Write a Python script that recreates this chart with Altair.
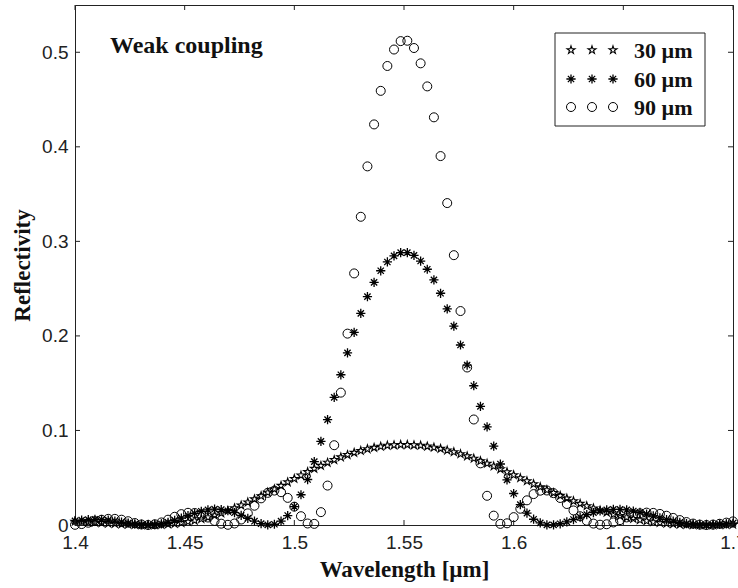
import altair as alt
import pandas as pd

# ---------------- data ----------------
wavelength = [
    1.40000, 1.40303, 1.40606, 1.40909, 1.41212, 1.41515, 1.41818, 1.42121, 1.42424, 1.42727,
    1.43030, 1.43333, 1.43636, 1.43939, 1.44242, 1.44545, 1.44848, 1.45152, 1.45455, 1.45758,
    1.46061, 1.46364, 1.46667, 1.46970, 1.47273, 1.47576, 1.47879, 1.48182, 1.48485, 1.48788,
    1.49091, 1.49394, 1.49697, 1.50000, 1.50303, 1.50606, 1.50909, 1.51212, 1.51515, 1.51818,
    1.52121, 1.52424, 1.52727, 1.53030, 1.53333, 1.53636, 1.53939, 1.54242, 1.54545, 1.54848,
    1.55152, 1.55455, 1.55758, 1.56061, 1.56364, 1.56667, 1.56970, 1.57273, 1.57576, 1.57879,
    1.58182, 1.58485, 1.58788, 1.59091, 1.59394, 1.59697, 1.60000, 1.60303, 1.60606, 1.60909,
    1.61212, 1.61515, 1.61818, 1.62121, 1.62424, 1.62727, 1.63030, 1.63333, 1.63636, 1.63939,
    1.64242, 1.64545, 1.64848, 1.65152, 1.65455, 1.65758, 1.66061, 1.66364, 1.66667, 1.66970,
    1.67273, 1.67576, 1.67879, 1.68182, 1.68485, 1.68788, 1.69091, 1.69394, 1.69697, 1.70000,
]

r_30 = [
    0.0037, 0.0034, 0.0030, 0.0026, 0.0022, 0.0017, 0.0013, 0.0009, 0.0005, 0.0003,
    0.0001, 0.0000, 0.0001, 0.0003, 0.0008, 0.0014, 0.0022, 0.0034, 0.0047, 0.0063,
    0.0081, 0.0101, 0.0125, 0.0151, 0.0178, 0.0208, 0.0240, 0.0273, 0.0307, 0.0343,
    0.0379, 0.0416, 0.0453, 0.0489, 0.0525, 0.0561, 0.0596, 0.0628, 0.0660, 0.0689,
    0.0717, 0.0742, 0.0765, 0.0785, 0.0803, 0.0818, 0.0830, 0.0840, 0.0845, 0.0848,
    0.0848, 0.0845, 0.0841, 0.0832, 0.0820, 0.0807, 0.0790, 0.0772, 0.0751, 0.0728,
    0.0703, 0.0677, 0.0650, 0.0621, 0.0591, 0.0560, 0.0529, 0.0497, 0.0465, 0.0433,
    0.0402, 0.0370, 0.0340, 0.0310, 0.0281, 0.0253, 0.0226, 0.0201, 0.0177, 0.0155,
    0.0133, 0.0114, 0.0096, 0.0081, 0.0066, 0.0053, 0.0042, 0.0032, 0.0024, 0.0017,
    0.0011, 0.0007, 0.0004, 0.0002, 0.0000, 0.0000, 0.0000, 0.0002, 0.0003, 0.0005,
]

r_60 = [
    0.0043, 0.0051, 0.0056, 0.0059, 0.0057, 0.0051, 0.0042, 0.0031, 0.0020, 0.0010,
    0.0003, 0.0000, 0.0003, 0.0013, 0.0029, 0.0049, 0.0073, 0.0099, 0.0124, 0.0145,
    0.0160, 0.0167, 0.0164, 0.0151, 0.0130, 0.0102, 0.0071, 0.0040, 0.0014, 0.0002,
    0.0008, 0.0040, 0.0100, 0.0194, 0.0320, 0.0481, 0.0670, 0.0884, 0.1115, 0.1350,
    0.1589, 0.1820, 0.2038, 0.2238, 0.2415, 0.2566, 0.2689, 0.2782, 0.2846, 0.2880,
    0.2881, 0.2852, 0.2792, 0.2705, 0.2592, 0.2451, 0.2286, 0.2103, 0.1904, 0.1692,
    0.1473, 0.1254, 0.1038, 0.0834, 0.0645, 0.0478, 0.0333, 0.0216, 0.0126, 0.0061,
    0.0022, 0.0002, 0.0002, 0.0013, 0.0033, 0.0058, 0.0084, 0.0109, 0.0131, 0.0149,
    0.0160, 0.0166, 0.0165, 0.0159, 0.0148, 0.0133, 0.0115, 0.0096, 0.0076, 0.0058,
    0.0041, 0.0027, 0.0015, 0.0006, 0.0002, 0.0000, 0.0002, 0.0006, 0.0012, 0.0019,
]

r_90 = [
    0.0002, 0.0010, 0.0024, 0.0041, 0.0056, 0.0065, 0.0065, 0.0056, 0.0040, 0.0021,
    0.0006, 0.0000, 0.0008, 0.0027, 0.0056, 0.0087, 0.0115, 0.0129, 0.0127, 0.0110,
    0.0079, 0.0043, 0.0014, 0.0002, 0.0016, 0.0058, 0.0123, 0.0204, 0.0282, 0.0340,
    0.0364, 0.0347, 0.0287, 0.0194, 0.0093, 0.0016, 0.0012, 0.0136, 0.0417, 0.0844,
    0.1400, 0.2024, 0.2661, 0.3260, 0.3793, 0.4237, 0.4592, 0.4855, 0.5029, 0.5118,
    0.5122, 0.5045, 0.4883, 0.4639, 0.4312, 0.3902, 0.3405, 0.2854, 0.2263, 0.1666,
    0.1116, 0.0652, 0.0309, 0.0099, 0.0012, 0.0018, 0.0083, 0.0172, 0.0261, 0.0327,
    0.0363, 0.0365, 0.0337, 0.0286, 0.0222, 0.0154, 0.0093, 0.0045, 0.0015, 0.0003,
    0.0008, 0.0027, 0.0052, 0.0080, 0.0105, 0.0123, 0.0131, 0.0128, 0.0117, 0.0098,
    0.0075, 0.0052, 0.0031, 0.0015, 0.0004, 0.0000, 0.0004, 0.0013, 0.0025, 0.0038,
]

series_labels = ["30 µm", "60 µm", "90 µm"]
x_ticks = [1.4, 1.45, 1.5, 1.55, 1.6, 1.65, 1.7]
y_ticks = [0, 0.1, 0.2, 0.3, 0.4, 0.5]
x_title = "Wavelength [µm]"
y_title = "Reflectivity"
annotation = "Weak coupling"

# ---------------- styling ----------------
W, H = 658, 520
STAR = ("M0,-1L0.225,-0.309L0.951,-0.309L0.363,0.118L0.588,0.809L0,0.382"
        "L-0.588,0.809L-0.363,0.118L-0.951,-0.309L-0.225,-0.309Z")
ASTERISK = "M0,-1L0,1M-1,0L1,0M-0.68,-0.68L0.68,0.68M-0.68,0.68L0.68,-0.68"
shapes = [STAR, ASTERISK, "circle"]
sizes = [70, 85, 81]
strokes = [1.1, 1.3, 1.0]
LABEL_FONT = "Liberation Sans"
TITLE_FONT = "Liberation Serif"

rows = []
for label, vals in zip(series_labels, [r_30, r_60, r_90]):
    for wl, r in zip(wavelength, vals):
        rows.append({"wavelength": wl, "reflectivity": r, "series": label})
long_df = pd.DataFrame(rows)

X = alt.X(
    "wavelength:Q",
    scale=alt.Scale(domain=[1.4, 1.7], nice=False, zero=False),
    axis=alt.Axis(
        values=x_ticks, format="~g", title=x_title, ticks=False, grid=False,
        labelFlush=False, labelOverlap=False, labelPadding=8,
        labelFont=LABEL_FONT, labelFontSize=19, labelColor="#222222",
        titleFont=TITLE_FONT, titleFontWeight="bold", titleFontSize=23,
        titleColor="#111111", titlePadding=6, domainColor="#222222",
    ),
)
Y = alt.Y(
    "reflectivity:Q",
    scale=alt.Scale(domain=[0, 0.55], nice=False, zero=True),
    axis=alt.Axis(
        values=y_ticks, format="~g", title=y_title, ticks=False, grid=False,
        labelFlush=False, labelOverlap=False, labelPadding=7,
        labelFont=LABEL_FONT, labelFontSize=19, labelColor="#222222",
        titleFont=TITLE_FONT, titleFontWeight="bold", titleFontSize=23,
        titleColor="#111111", titlePadding=7, domainColor="#222222",
    ),
)

layers = []
for label, shp, sz, sw in zip(series_labels, shapes, sizes, strokes):
    layers.append(
        alt.Chart(long_df)
        .transform_filter(alt.datum.series == label)
        .mark_point(shape=shp, size=sz, filled=False, color="black",
                    strokeWidth=sw, opacity=1)
        .encode(x=X, y=Y)
    )

# inward ticks on all four sides
xt = pd.DataFrame({"wavelength": x_ticks})
yt = pd.DataFrame({"reflectivity": y_ticks})
layers.append(alt.Chart(xt).mark_rule(color="#222222", strokeWidth=1)
              .encode(x=X, y=alt.value(0), y2=alt.value(5)))
layers.append(alt.Chart(xt).mark_rule(color="#222222", strokeWidth=1)
              .encode(x=X, y=alt.value(H), y2=alt.value(H - 5)))
layers.append(alt.Chart(yt).mark_rule(color="#222222", strokeWidth=1)
              .encode(y=Y, x=alt.value(0), x2=alt.value(5)))
layers.append(alt.Chart(yt).mark_rule(color="#222222", strokeWidth=1)
              .encode(y=Y, x=alt.value(W - 5), x2=alt.value(W)))

# annotation
layers.append(
    alt.Chart(pd.DataFrame({"t": [annotation]}))
    .mark_text(font=TITLE_FONT, fontWeight="bold", fontSize=24, align="left",
               baseline="alphabetic", color="#111111")
    .encode(text="t:N", x=alt.value(35), y=alt.value(48))
)

# MATLAB-style legend box with three markers per entry
layers.append(
    alt.Chart(pd.DataFrame({"t": [0]}))
    .mark_rect(fill="white", stroke="#222222", strokeWidth=1)
    .encode(x=alt.value(480), x2=alt.value(630), y=alt.value(28), y2=alt.value(121))
)
row_y = [45, 74, 102]
slot_x = [496, 517, 538]
for label, shp, sz, sw, ry in zip(series_labels, shapes, sizes, strokes, row_y):
    one = pd.DataFrame({"t": [label]})
    for sx in slot_x:
        layers.append(
            alt.Chart(one)
            .mark_point(shape=shp, size=sz, filled=False, color="black",
                        strokeWidth=sw, opacity=1)
            .encode(x=alt.value(sx), y=alt.value(ry))
        )
    layers.append(
        alt.Chart(one)
        .mark_text(font=TITLE_FONT, fontWeight="bold", fontSize=22, align="left",
                   baseline="middle", color="#111111")
        .encode(text="t:N", x=alt.value(559), y=alt.value(ry + 1))
    )

chart = (
    alt.layer(*layers)
    .properties(
        width=W, height=H,
        autosize=alt.AutoSizeParams(type="none"),
        padding={"left": 75, "top": 5, "right": 5, "bottom": 63},
        background="white",
    )
    .configure_view(stroke="#222222", strokeWidth=1)
)

chart.save("out.html", embed_options={"renderer": "svg", "actions": False})
